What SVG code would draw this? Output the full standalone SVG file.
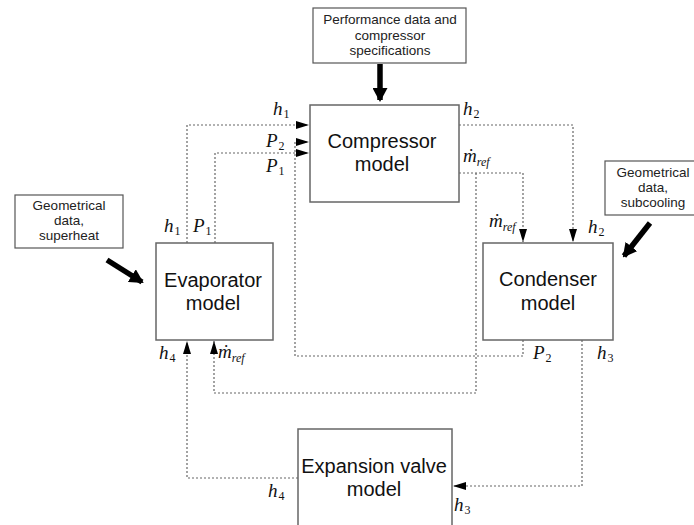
<svg xmlns="http://www.w3.org/2000/svg" width="694" height="525" viewBox="0 0 694 525">
  <style>
    .box { fill: #fff; stroke: #666; stroke-width: 1.5; }
    .note { fill: #fff; stroke: #555; stroke-width: 1.2; }
    .big { font-family: "Liberation Sans", Arial, sans-serif; font-size: 20px; fill: #111; text-anchor: middle; }
    .small { font-family: "Liberation Sans", Arial, sans-serif; font-size: 13.5px; fill: #222; text-anchor: middle; }
    .var { font-family: "Liberation Serif", "Times New Roman", serif; font-style: italic; font-size: 19px; fill: #111; }
    .sub { font-size: 12px; font-style: normal; }
    .subi { font-size: 12px; font-style: italic; }
    .flow { fill: none; stroke: #666; stroke-width: 1.2; stroke-dasharray: 2 2; }
    .thick { fill: none; stroke: #000; stroke-width: 5.5; }
  </style>
  <defs>
    <marker id="tip" viewBox="0 0 13 8" refX="13" refY="4" markerWidth="13" markerHeight="8" markerUnits="userSpaceOnUse" orient="auto">
      <path d="M0,0 L13,4 L0,8 z" fill="#000"/>
    </marker>
    <marker id="bigtip" viewBox="0 0 14 15" refX="12" refY="7.5" markerWidth="14" markerHeight="15" markerUnits="userSpaceOnUse" orient="auto">
      <path d="M0,0 L14,7.5 L0,15 z" fill="#000"/>
    </marker>
  </defs>

  <!-- signal connectors -->
  <g id="connectors">
    <!-- h1: evaporator -> compressor -->
    <path class="flow" d="M187,243 V125 H309" marker-end="url(#tip)"/>
    <!-- P1: evaporator -> compressor -->
    <path class="flow" d="M215,243 V153 H309" marker-end="url(#tip)"/>
    <!-- P2: condenser -> compressor -->
    <path class="flow" d="M523,340 V356 H295 V142 H309" marker-end="url(#tip)"/>
    <!-- h2: compressor -> condenser -->
    <path class="flow" d="M459,125 H573 V242" marker-end="url(#tip)"/>
    <!-- mass flow: compressor -> condenser -->
    <path class="flow" d="M459,173 H523 V242" marker-end="url(#tip)"/>
    <!-- mass flow: compressor -> evaporator -->
    <path class="flow" d="M476,173 V393 H214 V341" marker-end="url(#tip)"/>
    <!-- h3: condenser -> expansion valve -->
    <path class="flow" d="M582,340 V486 H453" marker-end="url(#tip)"/>
    <!-- h4: expansion valve -> evaporator -->
    <path class="flow" d="M298,478 H187 V341" marker-end="url(#tip)"/>
    <!-- external inputs -->
    <path class="thick" d="M380,64 V100" marker-end="url(#bigtip)"/>
    <path class="thick" d="M107,260 L142,282" marker-end="url(#bigtip)"/>
    <path class="thick" d="M650,223 L624,256" marker-end="url(#bigtip)"/>
  </g>

  <g id="compressor">
    <rect class="box" x="310" y="105" width="149" height="97"/>
    <text class="big" x="382" y="148">Compressor</text>
    <text class="big" x="382" y="171">model</text>
  </g>

  <g id="evaporator">
    <rect class="box" x="156" y="243" width="117" height="97"/>
    <text class="big" x="213" y="287">Evaporator</text>
    <text class="big" x="213" y="310">model</text>
  </g>

  <g id="condenser">
    <rect class="box" x="483" y="243" width="130" height="97"/>
    <text class="big" x="548" y="286">Condenser</text>
    <text class="big" x="548" y="310">model</text>
  </g>

  <g id="expansion-valve">
    <rect class="box" x="298" y="429" width="154" height="100"/>
    <text class="big" x="374" y="473">Expansion valve</text>
    <text class="big" x="374" y="496">model</text>
  </g>

  <g id="compressor-data">
    <rect class="note" x="313" y="8" width="153" height="55"/>
    <text class="small" x="390" y="24">Performance data and</text>
    <text class="small" x="390" y="40">compressor</text>
    <text class="small" x="390" y="55">specifications</text>
  </g>

  <g id="evaporator-data">
    <rect class="note" x="15" y="195" width="108" height="53"/>
    <text class="small" x="69" y="210">Geometrical</text>
    <text class="small" x="69" y="225">data,</text>
    <text class="small" x="69" y="240">superheat</text>
  </g>

  <g id="condenser-data">
    <rect class="note" x="605" y="161" width="90" height="54"/>
    <text class="small" x="653" y="177">Geometrical</text>
    <text class="small" x="653" y="192">data,</text>
    <text class="small" x="653" y="207">subcooling</text>
  </g>

  <!-- variable labels -->
  <g id="labels">
    <text class="var" x="273" y="115">h<tspan class="sub" dx="1" dy="3">1</tspan></text>
    <text class="var" x="266" y="147">P<tspan class="sub" dx="1" dy="3">2</tspan></text>
    <text class="var" x="266" y="172">P<tspan class="sub" dx="1" dy="3">1</tspan></text>
    <text class="var" x="463" y="115">h<tspan class="sub" dx="1" dy="3">2</tspan></text>
    <text class="var" x="463" y="162">ṁ<tspan class="subi" dy="4">ref</tspan></text>
    <text class="var" x="489" y="227">ṁ<tspan class="subi" dy="4">ref</tspan></text>
    <text class="var" x="588" y="233">h<tspan class="sub" dx="1" dy="3">2</tspan></text>
    <text class="var" x="164" y="232">h<tspan class="sub" dx="1" dy="3">1</tspan></text>
    <text class="var" x="193" y="232">P<tspan class="sub" dx="1" dy="3">1</tspan></text>
    <text class="var" x="159" y="359">h<tspan class="sub" dx="1" dy="3">4</tspan></text>
    <text class="var" x="218" y="358">ṁ<tspan class="subi" dy="4">ref</tspan></text>
    <text class="var" x="533" y="359">P<tspan class="sub" dx="1" dy="3">2</tspan></text>
    <text class="var" x="597" y="359">h<tspan class="sub" dx="1" dy="3">3</tspan></text>
    <text class="var" x="268" y="497">h<tspan class="sub" dx="1" dy="3">4</tspan></text>
    <text class="var" x="454" y="511">h<tspan class="sub" dx="1" dy="3">3</tspan></text>
  </g>
</svg>
